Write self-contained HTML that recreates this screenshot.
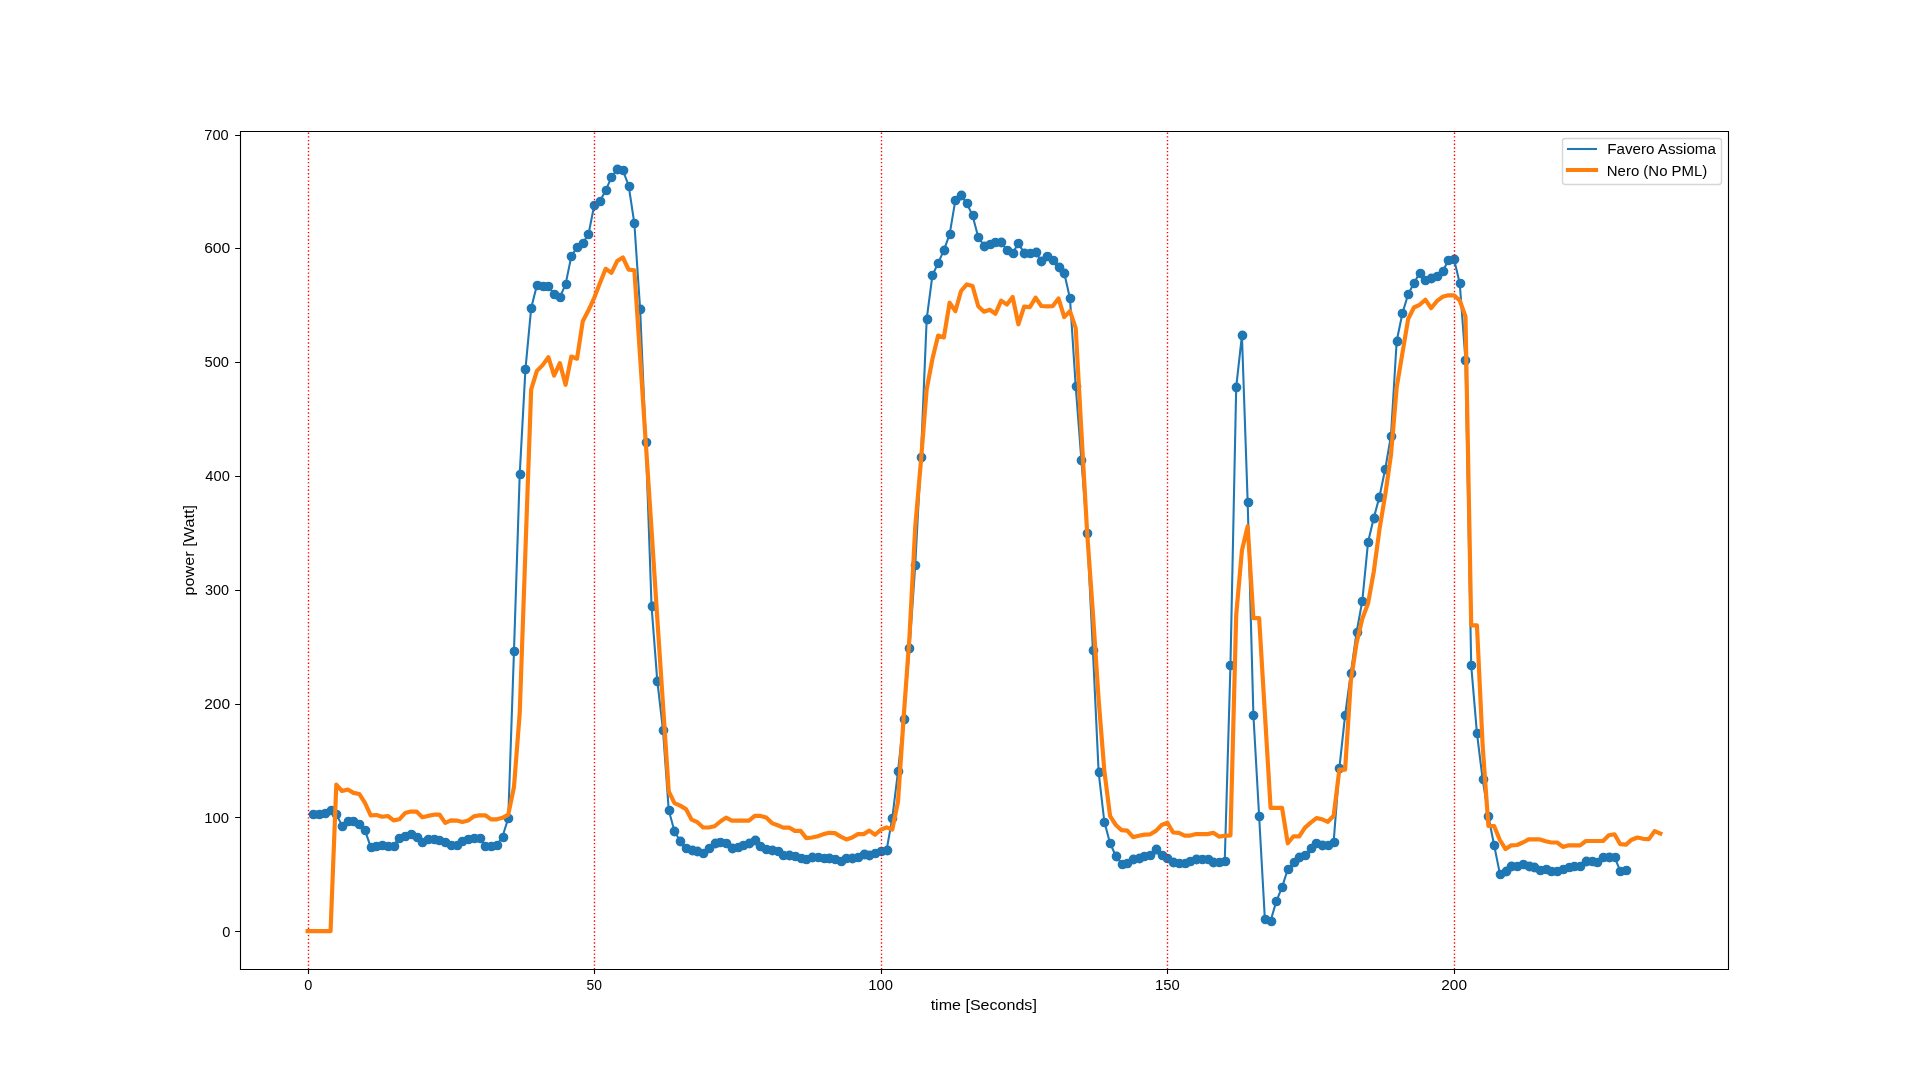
<!DOCTYPE html><html><head><meta charset="utf-8"><style>html,body{margin:0;padding:0;background:#fff;}svg{display:block;will-change:transform;}text{font-family:"Liberation Sans",sans-serif;fill:#000;}</style></head><body>
<svg width="1920" height="1089" viewBox="0 0 1920 1089">
<rect x="0" y="0" width="1920" height="1089" fill="#fff"/>
<defs><clipPath id="c"><rect x="240.0" y="130.68" width="1488.0" height="838.53"/></clipPath></defs>
<g clip-path="url(#c)">
<path d="M308.64 814.5a4.86 4.86 0 1 0 9.72 0a4.86 4.86 0 1 0 -9.72 0M314.64 814.5a4.86 4.86 0 1 0 9.72 0a4.86 4.86 0 1 0 -9.72 0M320.64 813.5a4.86 4.86 0 1 0 9.72 0a4.86 4.86 0 1 0 -9.72 0M326.64 810.5a4.86 4.86 0 1 0 9.72 0a4.86 4.86 0 1 0 -9.72 0M331.64 814.5a4.86 4.86 0 1 0 9.72 0a4.86 4.86 0 1 0 -9.72 0M337.64 826.5a4.86 4.86 0 1 0 9.72 0a4.86 4.86 0 1 0 -9.72 0M343.64 821.5a4.86 4.86 0 1 0 9.72 0a4.86 4.86 0 1 0 -9.72 0M348.64 821.5a4.86 4.86 0 1 0 9.72 0a4.86 4.86 0 1 0 -9.72 0M354.64 824.5a4.86 4.86 0 1 0 9.72 0a4.86 4.86 0 1 0 -9.72 0M360.64 830.5a4.86 4.86 0 1 0 9.72 0a4.86 4.86 0 1 0 -9.72 0M366.64 847.5a4.86 4.86 0 1 0 9.72 0a4.86 4.86 0 1 0 -9.72 0M371.64 846.5a4.86 4.86 0 1 0 9.72 0a4.86 4.86 0 1 0 -9.72 0M377.64 845.5a4.86 4.86 0 1 0 9.72 0a4.86 4.86 0 1 0 -9.72 0M383.64 846.5a4.86 4.86 0 1 0 9.72 0a4.86 4.86 0 1 0 -9.72 0M389.64 846.5a4.86 4.86 0 1 0 9.72 0a4.86 4.86 0 1 0 -9.72 0M394.64 838.5a4.86 4.86 0 1 0 9.72 0a4.86 4.86 0 1 0 -9.72 0M400.64 836.5a4.86 4.86 0 1 0 9.72 0a4.86 4.86 0 1 0 -9.72 0M406.64 834.5a4.86 4.86 0 1 0 9.72 0a4.86 4.86 0 1 0 -9.72 0M412.64 837.5a4.86 4.86 0 1 0 9.72 0a4.86 4.86 0 1 0 -9.72 0M417.64 842.5a4.86 4.86 0 1 0 9.72 0a4.86 4.86 0 1 0 -9.72 0M423.64 839.5a4.86 4.86 0 1 0 9.72 0a4.86 4.86 0 1 0 -9.72 0M429.64 839.5a4.86 4.86 0 1 0 9.72 0a4.86 4.86 0 1 0 -9.72 0M434.64 840.5a4.86 4.86 0 1 0 9.72 0a4.86 4.86 0 1 0 -9.72 0M440.64 842.5a4.86 4.86 0 1 0 9.72 0a4.86 4.86 0 1 0 -9.72 0M446.64 845.5a4.86 4.86 0 1 0 9.72 0a4.86 4.86 0 1 0 -9.72 0M452.64 845.5a4.86 4.86 0 1 0 9.72 0a4.86 4.86 0 1 0 -9.72 0M457.64 841.5a4.86 4.86 0 1 0 9.72 0a4.86 4.86 0 1 0 -9.72 0M463.64 839.5a4.86 4.86 0 1 0 9.72 0a4.86 4.86 0 1 0 -9.72 0M469.64 838.5a4.86 4.86 0 1 0 9.72 0a4.86 4.86 0 1 0 -9.72 0M475.64 838.5a4.86 4.86 0 1 0 9.72 0a4.86 4.86 0 1 0 -9.72 0M480.64 846.5a4.86 4.86 0 1 0 9.72 0a4.86 4.86 0 1 0 -9.72 0M486.64 846.5a4.86 4.86 0 1 0 9.72 0a4.86 4.86 0 1 0 -9.72 0M492.64 845.5a4.86 4.86 0 1 0 9.72 0a4.86 4.86 0 1 0 -9.72 0M498.64 837.5a4.86 4.86 0 1 0 9.72 0a4.86 4.86 0 1 0 -9.72 0M503.64 818.5a4.86 4.86 0 1 0 9.72 0a4.86 4.86 0 1 0 -9.72 0M509.64 651.5a4.86 4.86 0 1 0 9.72 0a4.86 4.86 0 1 0 -9.72 0M515.64 474.5a4.86 4.86 0 1 0 9.72 0a4.86 4.86 0 1 0 -9.72 0M520.64 369.5a4.86 4.86 0 1 0 9.72 0a4.86 4.86 0 1 0 -9.72 0M526.64 308.5a4.86 4.86 0 1 0 9.72 0a4.86 4.86 0 1 0 -9.72 0M532.64 285.5a4.86 4.86 0 1 0 9.72 0a4.86 4.86 0 1 0 -9.72 0M538.64 286.5a4.86 4.86 0 1 0 9.72 0a4.86 4.86 0 1 0 -9.72 0M543.64 286.5a4.86 4.86 0 1 0 9.72 0a4.86 4.86 0 1 0 -9.72 0M549.64 294.5a4.86 4.86 0 1 0 9.72 0a4.86 4.86 0 1 0 -9.72 0M555.64 297.5a4.86 4.86 0 1 0 9.72 0a4.86 4.86 0 1 0 -9.72 0M561.64 284.5a4.86 4.86 0 1 0 9.72 0a4.86 4.86 0 1 0 -9.72 0M566.64 256.5a4.86 4.86 0 1 0 9.72 0a4.86 4.86 0 1 0 -9.72 0M572.64 247.5a4.86 4.86 0 1 0 9.72 0a4.86 4.86 0 1 0 -9.72 0M578.64 243.5a4.86 4.86 0 1 0 9.72 0a4.86 4.86 0 1 0 -9.72 0M583.64 234.5a4.86 4.86 0 1 0 9.72 0a4.86 4.86 0 1 0 -9.72 0M589.64 205.5a4.86 4.86 0 1 0 9.72 0a4.86 4.86 0 1 0 -9.72 0M595.64 201.5a4.86 4.86 0 1 0 9.72 0a4.86 4.86 0 1 0 -9.72 0M601.64 190.5a4.86 4.86 0 1 0 9.72 0a4.86 4.86 0 1 0 -9.72 0M606.64 177.5a4.86 4.86 0 1 0 9.72 0a4.86 4.86 0 1 0 -9.72 0M612.64 169.5a4.86 4.86 0 1 0 9.72 0a4.86 4.86 0 1 0 -9.72 0M618.64 170.5a4.86 4.86 0 1 0 9.72 0a4.86 4.86 0 1 0 -9.72 0M624.64 186.5a4.86 4.86 0 1 0 9.72 0a4.86 4.86 0 1 0 -9.72 0M629.64 223.5a4.86 4.86 0 1 0 9.72 0a4.86 4.86 0 1 0 -9.72 0M635.64 309.5a4.86 4.86 0 1 0 9.72 0a4.86 4.86 0 1 0 -9.72 0M641.64 442.5a4.86 4.86 0 1 0 9.72 0a4.86 4.86 0 1 0 -9.72 0M647.64 606.5a4.86 4.86 0 1 0 9.72 0a4.86 4.86 0 1 0 -9.72 0M652.64 681.5a4.86 4.86 0 1 0 9.72 0a4.86 4.86 0 1 0 -9.72 0M658.64 730.5a4.86 4.86 0 1 0 9.72 0a4.86 4.86 0 1 0 -9.72 0M664.64 810.5a4.86 4.86 0 1 0 9.72 0a4.86 4.86 0 1 0 -9.72 0M669.64 831.5a4.86 4.86 0 1 0 9.72 0a4.86 4.86 0 1 0 -9.72 0M675.64 841.5a4.86 4.86 0 1 0 9.72 0a4.86 4.86 0 1 0 -9.72 0M681.64 848.5a4.86 4.86 0 1 0 9.72 0a4.86 4.86 0 1 0 -9.72 0M687.64 850.5a4.86 4.86 0 1 0 9.72 0a4.86 4.86 0 1 0 -9.72 0M692.64 851.5a4.86 4.86 0 1 0 9.72 0a4.86 4.86 0 1 0 -9.72 0M698.64 853.5a4.86 4.86 0 1 0 9.72 0a4.86 4.86 0 1 0 -9.72 0M704.64 848.5a4.86 4.86 0 1 0 9.72 0a4.86 4.86 0 1 0 -9.72 0M710.64 843.5a4.86 4.86 0 1 0 9.72 0a4.86 4.86 0 1 0 -9.72 0M715.64 842.5a4.86 4.86 0 1 0 9.72 0a4.86 4.86 0 1 0 -9.72 0M721.64 843.5a4.86 4.86 0 1 0 9.72 0a4.86 4.86 0 1 0 -9.72 0M727.64 848.5a4.86 4.86 0 1 0 9.72 0a4.86 4.86 0 1 0 -9.72 0M733.64 847.5a4.86 4.86 0 1 0 9.72 0a4.86 4.86 0 1 0 -9.72 0M738.64 845.5a4.86 4.86 0 1 0 9.72 0a4.86 4.86 0 1 0 -9.72 0M744.64 843.5a4.86 4.86 0 1 0 9.72 0a4.86 4.86 0 1 0 -9.72 0M750.64 840.5a4.86 4.86 0 1 0 9.72 0a4.86 4.86 0 1 0 -9.72 0M755.64 846.5a4.86 4.86 0 1 0 9.72 0a4.86 4.86 0 1 0 -9.72 0M761.64 849.5a4.86 4.86 0 1 0 9.72 0a4.86 4.86 0 1 0 -9.72 0M767.64 850.5a4.86 4.86 0 1 0 9.72 0a4.86 4.86 0 1 0 -9.72 0M773.64 851.5a4.86 4.86 0 1 0 9.72 0a4.86 4.86 0 1 0 -9.72 0M778.64 855.5a4.86 4.86 0 1 0 9.72 0a4.86 4.86 0 1 0 -9.72 0M784.64 855.5a4.86 4.86 0 1 0 9.72 0a4.86 4.86 0 1 0 -9.72 0M790.64 856.5a4.86 4.86 0 1 0 9.72 0a4.86 4.86 0 1 0 -9.72 0M796.64 858.5a4.86 4.86 0 1 0 9.72 0a4.86 4.86 0 1 0 -9.72 0M801.64 859.5a4.86 4.86 0 1 0 9.72 0a4.86 4.86 0 1 0 -9.72 0M807.64 857.5a4.86 4.86 0 1 0 9.72 0a4.86 4.86 0 1 0 -9.72 0M813.64 857.5a4.86 4.86 0 1 0 9.72 0a4.86 4.86 0 1 0 -9.72 0M819.64 858.5a4.86 4.86 0 1 0 9.72 0a4.86 4.86 0 1 0 -9.72 0M824.64 858.5a4.86 4.86 0 1 0 9.72 0a4.86 4.86 0 1 0 -9.72 0M830.64 859.5a4.86 4.86 0 1 0 9.72 0a4.86 4.86 0 1 0 -9.72 0M836.64 861.5a4.86 4.86 0 1 0 9.72 0a4.86 4.86 0 1 0 -9.72 0M841.64 858.5a4.86 4.86 0 1 0 9.72 0a4.86 4.86 0 1 0 -9.72 0M847.64 858.5a4.86 4.86 0 1 0 9.72 0a4.86 4.86 0 1 0 -9.72 0M853.64 857.5a4.86 4.86 0 1 0 9.72 0a4.86 4.86 0 1 0 -9.72 0M859.64 854.5a4.86 4.86 0 1 0 9.72 0a4.86 4.86 0 1 0 -9.72 0M864.64 855.5a4.86 4.86 0 1 0 9.72 0a4.86 4.86 0 1 0 -9.72 0M870.64 853.5a4.86 4.86 0 1 0 9.72 0a4.86 4.86 0 1 0 -9.72 0M876.64 851.5a4.86 4.86 0 1 0 9.72 0a4.86 4.86 0 1 0 -9.72 0M882.64 850.5a4.86 4.86 0 1 0 9.72 0a4.86 4.86 0 1 0 -9.72 0M887.64 818.5a4.86 4.86 0 1 0 9.72 0a4.86 4.86 0 1 0 -9.72 0M893.64 771.5a4.86 4.86 0 1 0 9.72 0a4.86 4.86 0 1 0 -9.72 0M899.64 719.5a4.86 4.86 0 1 0 9.72 0a4.86 4.86 0 1 0 -9.72 0M904.64 648.5a4.86 4.86 0 1 0 9.72 0a4.86 4.86 0 1 0 -9.72 0M910.64 565.5a4.86 4.86 0 1 0 9.72 0a4.86 4.86 0 1 0 -9.72 0M916.64 457.5a4.86 4.86 0 1 0 9.72 0a4.86 4.86 0 1 0 -9.72 0M922.64 319.5a4.86 4.86 0 1 0 9.72 0a4.86 4.86 0 1 0 -9.72 0M927.64 275.5a4.86 4.86 0 1 0 9.72 0a4.86 4.86 0 1 0 -9.72 0M933.64 263.5a4.86 4.86 0 1 0 9.72 0a4.86 4.86 0 1 0 -9.72 0M939.64 250.5a4.86 4.86 0 1 0 9.72 0a4.86 4.86 0 1 0 -9.72 0M945.64 234.5a4.86 4.86 0 1 0 9.72 0a4.86 4.86 0 1 0 -9.72 0M950.64 200.5a4.86 4.86 0 1 0 9.72 0a4.86 4.86 0 1 0 -9.72 0M956.64 195.5a4.86 4.86 0 1 0 9.72 0a4.86 4.86 0 1 0 -9.72 0M962.64 203.5a4.86 4.86 0 1 0 9.72 0a4.86 4.86 0 1 0 -9.72 0M968.64 215.5a4.86 4.86 0 1 0 9.72 0a4.86 4.86 0 1 0 -9.72 0M973.64 237.5a4.86 4.86 0 1 0 9.72 0a4.86 4.86 0 1 0 -9.72 0M979.64 246.5a4.86 4.86 0 1 0 9.72 0a4.86 4.86 0 1 0 -9.72 0M985.64 244.5a4.86 4.86 0 1 0 9.72 0a4.86 4.86 0 1 0 -9.72 0M990.64 242.5a4.86 4.86 0 1 0 9.72 0a4.86 4.86 0 1 0 -9.72 0M996.64 242.5a4.86 4.86 0 1 0 9.72 0a4.86 4.86 0 1 0 -9.72 0M1002.64 250.5a4.86 4.86 0 1 0 9.72 0a4.86 4.86 0 1 0 -9.72 0M1008.64 253.5a4.86 4.86 0 1 0 9.72 0a4.86 4.86 0 1 0 -9.72 0M1013.64 243.5a4.86 4.86 0 1 0 9.72 0a4.86 4.86 0 1 0 -9.72 0M1019.64 253.5a4.86 4.86 0 1 0 9.72 0a4.86 4.86 0 1 0 -9.72 0M1025.64 253.5a4.86 4.86 0 1 0 9.72 0a4.86 4.86 0 1 0 -9.72 0M1031.64 252.5a4.86 4.86 0 1 0 9.72 0a4.86 4.86 0 1 0 -9.72 0M1036.64 261.5a4.86 4.86 0 1 0 9.72 0a4.86 4.86 0 1 0 -9.72 0M1042.64 256.5a4.86 4.86 0 1 0 9.72 0a4.86 4.86 0 1 0 -9.72 0M1048.64 260.5a4.86 4.86 0 1 0 9.72 0a4.86 4.86 0 1 0 -9.72 0M1054.64 267.5a4.86 4.86 0 1 0 9.72 0a4.86 4.86 0 1 0 -9.72 0M1059.64 273.5a4.86 4.86 0 1 0 9.72 0a4.86 4.86 0 1 0 -9.72 0M1065.64 298.5a4.86 4.86 0 1 0 9.72 0a4.86 4.86 0 1 0 -9.72 0M1071.64 386.5a4.86 4.86 0 1 0 9.72 0a4.86 4.86 0 1 0 -9.72 0M1076.64 460.5a4.86 4.86 0 1 0 9.72 0a4.86 4.86 0 1 0 -9.72 0M1082.64 533.5a4.86 4.86 0 1 0 9.72 0a4.86 4.86 0 1 0 -9.72 0M1088.64 650.5a4.86 4.86 0 1 0 9.72 0a4.86 4.86 0 1 0 -9.72 0M1094.64 772.5a4.86 4.86 0 1 0 9.72 0a4.86 4.86 0 1 0 -9.72 0M1099.64 822.5a4.86 4.86 0 1 0 9.72 0a4.86 4.86 0 1 0 -9.72 0M1105.64 843.5a4.86 4.86 0 1 0 9.72 0a4.86 4.86 0 1 0 -9.72 0M1111.64 856.5a4.86 4.86 0 1 0 9.72 0a4.86 4.86 0 1 0 -9.72 0M1117.64 864.5a4.86 4.86 0 1 0 9.72 0a4.86 4.86 0 1 0 -9.72 0M1122.64 863.5a4.86 4.86 0 1 0 9.72 0a4.86 4.86 0 1 0 -9.72 0M1128.64 859.5a4.86 4.86 0 1 0 9.72 0a4.86 4.86 0 1 0 -9.72 0M1134.64 858.5a4.86 4.86 0 1 0 9.72 0a4.86 4.86 0 1 0 -9.72 0M1139.64 856.5a4.86 4.86 0 1 0 9.72 0a4.86 4.86 0 1 0 -9.72 0M1145.64 855.5a4.86 4.86 0 1 0 9.72 0a4.86 4.86 0 1 0 -9.72 0M1151.64 849.5a4.86 4.86 0 1 0 9.72 0a4.86 4.86 0 1 0 -9.72 0M1157.64 855.5a4.86 4.86 0 1 0 9.72 0a4.86 4.86 0 1 0 -9.72 0M1162.64 858.5a4.86 4.86 0 1 0 9.72 0a4.86 4.86 0 1 0 -9.72 0M1168.64 862.5a4.86 4.86 0 1 0 9.72 0a4.86 4.86 0 1 0 -9.72 0M1174.64 863.5a4.86 4.86 0 1 0 9.72 0a4.86 4.86 0 1 0 -9.72 0M1180.64 863.5a4.86 4.86 0 1 0 9.72 0a4.86 4.86 0 1 0 -9.72 0M1185.64 861.5a4.86 4.86 0 1 0 9.72 0a4.86 4.86 0 1 0 -9.72 0M1191.64 859.5a4.86 4.86 0 1 0 9.72 0a4.86 4.86 0 1 0 -9.72 0M1197.64 859.5a4.86 4.86 0 1 0 9.72 0a4.86 4.86 0 1 0 -9.72 0M1203.64 859.5a4.86 4.86 0 1 0 9.72 0a4.86 4.86 0 1 0 -9.72 0M1208.64 862.5a4.86 4.86 0 1 0 9.72 0a4.86 4.86 0 1 0 -9.72 0M1214.64 862.5a4.86 4.86 0 1 0 9.72 0a4.86 4.86 0 1 0 -9.72 0M1220.64 861.5a4.86 4.86 0 1 0 9.72 0a4.86 4.86 0 1 0 -9.72 0M1225.64 665.5a4.86 4.86 0 1 0 9.72 0a4.86 4.86 0 1 0 -9.72 0M1231.64 387.5a4.86 4.86 0 1 0 9.72 0a4.86 4.86 0 1 0 -9.72 0M1237.64 335.5a4.86 4.86 0 1 0 9.72 0a4.86 4.86 0 1 0 -9.72 0M1243.64 502.5a4.86 4.86 0 1 0 9.72 0a4.86 4.86 0 1 0 -9.72 0M1248.64 715.5a4.86 4.86 0 1 0 9.72 0a4.86 4.86 0 1 0 -9.72 0M1254.64 816.5a4.86 4.86 0 1 0 9.72 0a4.86 4.86 0 1 0 -9.72 0M1260.64 919.5a4.86 4.86 0 1 0 9.72 0a4.86 4.86 0 1 0 -9.72 0M1266.64 921.5a4.86 4.86 0 1 0 9.72 0a4.86 4.86 0 1 0 -9.72 0M1271.64 901.5a4.86 4.86 0 1 0 9.72 0a4.86 4.86 0 1 0 -9.72 0M1277.64 887.5a4.86 4.86 0 1 0 9.72 0a4.86 4.86 0 1 0 -9.72 0M1283.64 869.5a4.86 4.86 0 1 0 9.72 0a4.86 4.86 0 1 0 -9.72 0M1289.64 862.5a4.86 4.86 0 1 0 9.72 0a4.86 4.86 0 1 0 -9.72 0M1294.64 857.5a4.86 4.86 0 1 0 9.72 0a4.86 4.86 0 1 0 -9.72 0M1300.64 855.5a4.86 4.86 0 1 0 9.72 0a4.86 4.86 0 1 0 -9.72 0M1306.64 848.5a4.86 4.86 0 1 0 9.72 0a4.86 4.86 0 1 0 -9.72 0M1311.64 843.5a4.86 4.86 0 1 0 9.72 0a4.86 4.86 0 1 0 -9.72 0M1317.64 845.5a4.86 4.86 0 1 0 9.72 0a4.86 4.86 0 1 0 -9.72 0M1323.64 845.5a4.86 4.86 0 1 0 9.72 0a4.86 4.86 0 1 0 -9.72 0M1329.64 842.5a4.86 4.86 0 1 0 9.72 0a4.86 4.86 0 1 0 -9.72 0M1334.64 768.5a4.86 4.86 0 1 0 9.72 0a4.86 4.86 0 1 0 -9.72 0M1340.64 715.5a4.86 4.86 0 1 0 9.72 0a4.86 4.86 0 1 0 -9.72 0M1346.64 673.5a4.86 4.86 0 1 0 9.72 0a4.86 4.86 0 1 0 -9.72 0M1352.64 632.5a4.86 4.86 0 1 0 9.72 0a4.86 4.86 0 1 0 -9.72 0M1357.64 601.5a4.86 4.86 0 1 0 9.72 0a4.86 4.86 0 1 0 -9.72 0M1363.64 542.5a4.86 4.86 0 1 0 9.72 0a4.86 4.86 0 1 0 -9.72 0M1369.64 518.5a4.86 4.86 0 1 0 9.72 0a4.86 4.86 0 1 0 -9.72 0M1374.64 497.5a4.86 4.86 0 1 0 9.72 0a4.86 4.86 0 1 0 -9.72 0M1380.64 469.5a4.86 4.86 0 1 0 9.72 0a4.86 4.86 0 1 0 -9.72 0M1386.64 436.5a4.86 4.86 0 1 0 9.72 0a4.86 4.86 0 1 0 -9.72 0M1392.64 341.5a4.86 4.86 0 1 0 9.72 0a4.86 4.86 0 1 0 -9.72 0M1397.64 313.5a4.86 4.86 0 1 0 9.72 0a4.86 4.86 0 1 0 -9.72 0M1403.64 294.5a4.86 4.86 0 1 0 9.72 0a4.86 4.86 0 1 0 -9.72 0M1409.64 283.5a4.86 4.86 0 1 0 9.72 0a4.86 4.86 0 1 0 -9.72 0M1415.64 273.5a4.86 4.86 0 1 0 9.72 0a4.86 4.86 0 1 0 -9.72 0M1420.64 280.5a4.86 4.86 0 1 0 9.72 0a4.86 4.86 0 1 0 -9.72 0M1426.64 278.5a4.86 4.86 0 1 0 9.72 0a4.86 4.86 0 1 0 -9.72 0M1432.64 276.5a4.86 4.86 0 1 0 9.72 0a4.86 4.86 0 1 0 -9.72 0M1438.64 271.5a4.86 4.86 0 1 0 9.72 0a4.86 4.86 0 1 0 -9.72 0M1443.64 260.5a4.86 4.86 0 1 0 9.72 0a4.86 4.86 0 1 0 -9.72 0M1449.64 259.5a4.86 4.86 0 1 0 9.72 0a4.86 4.86 0 1 0 -9.72 0M1455.64 283.5a4.86 4.86 0 1 0 9.72 0a4.86 4.86 0 1 0 -9.72 0M1460.64 360.5a4.86 4.86 0 1 0 9.72 0a4.86 4.86 0 1 0 -9.72 0M1466.64 665.5a4.86 4.86 0 1 0 9.72 0a4.86 4.86 0 1 0 -9.72 0M1472.64 733.5a4.86 4.86 0 1 0 9.72 0a4.86 4.86 0 1 0 -9.72 0M1478.64 779.5a4.86 4.86 0 1 0 9.72 0a4.86 4.86 0 1 0 -9.72 0M1483.64 816.5a4.86 4.86 0 1 0 9.72 0a4.86 4.86 0 1 0 -9.72 0M1489.64 845.5a4.86 4.86 0 1 0 9.72 0a4.86 4.86 0 1 0 -9.72 0M1495.64 874.5a4.86 4.86 0 1 0 9.72 0a4.86 4.86 0 1 0 -9.72 0M1501.64 871.5a4.86 4.86 0 1 0 9.72 0a4.86 4.86 0 1 0 -9.72 0M1506.64 866.5a4.86 4.86 0 1 0 9.72 0a4.86 4.86 0 1 0 -9.72 0M1512.64 866.5a4.86 4.86 0 1 0 9.72 0a4.86 4.86 0 1 0 -9.72 0M1518.64 864.5a4.86 4.86 0 1 0 9.72 0a4.86 4.86 0 1 0 -9.72 0M1524.64 866.5a4.86 4.86 0 1 0 9.72 0a4.86 4.86 0 1 0 -9.72 0M1529.64 867.5a4.86 4.86 0 1 0 9.72 0a4.86 4.86 0 1 0 -9.72 0M1535.64 870.5a4.86 4.86 0 1 0 9.72 0a4.86 4.86 0 1 0 -9.72 0M1541.64 869.5a4.86 4.86 0 1 0 9.72 0a4.86 4.86 0 1 0 -9.72 0M1546.64 871.5a4.86 4.86 0 1 0 9.72 0a4.86 4.86 0 1 0 -9.72 0M1552.64 871.5a4.86 4.86 0 1 0 9.72 0a4.86 4.86 0 1 0 -9.72 0M1558.64 869.5a4.86 4.86 0 1 0 9.72 0a4.86 4.86 0 1 0 -9.72 0M1564.64 867.5a4.86 4.86 0 1 0 9.72 0a4.86 4.86 0 1 0 -9.72 0M1569.64 866.5a4.86 4.86 0 1 0 9.72 0a4.86 4.86 0 1 0 -9.72 0M1575.64 866.5a4.86 4.86 0 1 0 9.72 0a4.86 4.86 0 1 0 -9.72 0M1581.64 861.5a4.86 4.86 0 1 0 9.72 0a4.86 4.86 0 1 0 -9.72 0M1587.64 861.5a4.86 4.86 0 1 0 9.72 0a4.86 4.86 0 1 0 -9.72 0M1592.64 862.5a4.86 4.86 0 1 0 9.72 0a4.86 4.86 0 1 0 -9.72 0M1598.64 857.5a4.86 4.86 0 1 0 9.72 0a4.86 4.86 0 1 0 -9.72 0M1604.64 857.5a4.86 4.86 0 1 0 9.72 0a4.86 4.86 0 1 0 -9.72 0M1610.64 857.5a4.86 4.86 0 1 0 9.72 0a4.86 4.86 0 1 0 -9.72 0M1615.64 871.5a4.86 4.86 0 1 0 9.72 0a4.86 4.86 0 1 0 -9.72 0M1621.64 870.5a4.86 4.86 0 1 0 9.72 0a4.86 4.86 0 1 0 -9.72 0" fill="#1f77b4"/>
<line x1="308.5" y1="969.5" x2="308.5" y2="130.68" stroke="#ff0000" stroke-width="1.389" stroke-dasharray="1.389 2.292"/>
<line x1="594.5" y1="969.5" x2="594.5" y2="130.68" stroke="#ff0000" stroke-width="1.389" stroke-dasharray="1.389 2.292"/>
<line x1="881.5" y1="969.5" x2="881.5" y2="130.68" stroke="#ff0000" stroke-width="1.389" stroke-dasharray="1.389 2.292"/>
<line x1="1167.5" y1="969.5" x2="1167.5" y2="130.68" stroke="#ff0000" stroke-width="1.389" stroke-dasharray="1.389 2.292"/>
<line x1="1454.5" y1="969.5" x2="1454.5" y2="130.68" stroke="#ff0000" stroke-width="1.389" stroke-dasharray="1.389 2.292"/>
<polyline points="313.37,814.15 319.1,814.15 324.83,813.4 330.56,809.75 336.3,814.15 342.03,825.6 347.76,820.8 353.49,820.8 359.22,824.07 364.96,830.3 370.69,846.8 376.42,846.1 382.15,845 387.88,845.5 393.61,845.5 399.35,838 405.08,836.2 410.81,834 416.54,836.5 422.27,842 428.01,839.06 433.74,839.4 439.47,840 445.2,841.9 450.93,844.9 456.67,844.9 462.4,840.9 468.13,839.06 473.86,838.1 479.59,838.1 485.32,845.9 491.06,846.25 496.79,845.3 502.52,836.5 508.25,818.3 513.98,651.3 519.72,474.2 525.45,369.1 531.18,308.1 536.91,285.3 542.64,286 548.38,286 554.11,294.4 559.84,297.3 565.57,284.4 571.3,256.4 577.03,247.2 582.77,243 588.5,234.3 594.23,205.3 599.96,201.3 605.69,190.3 611.43,177.4 617.16,169.3 622.89,170.4 628.62,185.5 634.35,223.3 640.09,308.7 645.82,442 651.55,606.2 657.28,680.6 663.01,730.2 668.75,810.2 674.48,831.25 680.21,841.25 685.94,848.4 691.67,850 697.4,850.9 703.14,853.1 708.87,848.4 714.6,843.1 720.33,842.2 726.06,843.1 731.8,848.1 737.53,847.2 743.26,845.3 748.99,843.4 754.72,840 760.46,846.25 766.19,849.4 771.92,850 777.65,851 783.38,854.8 789.11,855 794.85,855.9 800.58,858.4 806.31,858.8 812.04,856.6 817.77,856.6 823.51,858.1 829.24,857.8 834.97,859.4 840.7,861 846.43,857.5 852.17,857.8 857.9,856.6 863.63,853.75 869.36,854.9 875.09,853.4 880.82,851.2 886.56,850.3 892.29,818.1 898.02,771.3 903.75,718.6 909.48,648.2 915.22,565.3 920.95,457.1 926.68,319.2 932.41,275.3 938.14,263.1 943.88,250.2 949.61,234.4 955.34,200.4 961.07,195.3 966.8,203.4 972.53,215.4 978.27,237.3 984,245.5 989.73,244.3 995.46,242.1 1001.19,242.4 1006.93,250.2 1012.66,253.3 1018.39,243.3 1024.12,253.1 1029.85,253.1 1035.59,252 1041.32,261.3 1047.05,256.1 1052.78,259.5 1058.51,267 1064.25,273.1 1069.98,298.4 1075.71,386.2 1081.44,460.3 1087.17,533 1092.9,650.1 1098.64,772.4 1104.37,822 1110.1,843.2 1115.83,856 1121.56,863.5 1127.3,863.3 1133.03,858.5 1138.76,858 1144.49,856.4 1150.22,855 1155.96,848.75 1161.69,855.3 1167.42,857.8 1173.15,861.6 1178.88,862.5 1184.61,862.5 1190.35,861.25 1196.08,859.1 1201.81,859.1 1207.54,858.75 1213.27,861.6 1219.01,862.2 1224.74,861.2 1230.47,664.5 1236.2,387.2 1241.93,335.3 1247.67,501.9 1253.4,715.1 1259.13,816.3 1264.86,918.9 1270.59,921 1276.32,901.3 1282.06,887.1 1287.79,869.2 1293.52,862.3 1299.25,856.9 1304.98,854.5 1310.72,848.3 1316.45,842.5 1322.18,845 1327.91,845.4 1333.64,842.1 1339.38,768.1 1345.11,715.2 1350.84,673.3 1356.57,632.3 1362.3,601 1368.03,542.3 1373.77,518.1 1379.5,496.5 1385.23,469 1390.96,435.9 1396.69,341 1402.43,313.2 1408.16,294.2 1413.89,283.3 1419.62,273.1 1425.35,280 1431.09,278.4 1436.82,276.2 1442.55,271.4 1448.28,260.4 1454.01,259.3 1459.75,283.3 1465.48,360.2 1471.21,665.3 1476.94,733.2 1482.67,779.4 1488.4,816.2 1494.14,845.2 1499.87,873.6 1505.6,870.6 1511.33,865.7 1517.06,866.25 1522.8,864.4 1528.53,865.6 1534.26,867.2 1539.99,869.5 1545.72,869 1551.46,870.6 1557.19,870.5 1562.92,869.2 1568.65,866.8 1574.38,866 1580.11,865.7 1585.85,861.3 1591.58,861 1597.31,861.6 1603.04,857.2 1608.77,857.4 1614.51,857.1 1620.24,870.8 1625.97,870.3" fill="none" stroke="#1f77b4" stroke-width="2.083" stroke-linejoin="round" stroke-linecap="square"/>
<polyline points="307.64,931.1 313.37,931.1 319.1,931.1 324.83,931.1 330.56,931.1 336.3,784.6 342.03,791 347.76,789.5 353.49,792.85 359.22,793.95 364.96,802.8 370.69,815.3 376.42,815 382.15,816.7 387.88,816 393.61,820.4 399.35,819.3 405.08,813.05 410.81,811.6 416.54,811.6 422.27,817.3 428.01,815.9 433.74,814.7 439.47,814.5 445.2,822.9 450.93,820.3 456.67,820.6 462.4,822 468.13,820.6 473.86,816.4 479.59,815.3 485.32,815.3 491.06,819.4 496.79,819.3 502.52,817.8 508.25,814.7 513.98,787 519.72,713 525.45,550 531.18,389.4 536.91,370.9 542.64,365.1 548.38,357.2 554.11,375.6 559.84,363.1 565.57,384.8 571.3,356.5 577.03,358.7 582.77,321.3 588.5,310.3 594.23,297.8 599.96,283 605.69,268.8 611.43,272.9 617.16,261.1 622.89,257.5 628.62,269.6 634.35,270.2 640.09,356.6 645.82,443.3 651.55,529.9 657.28,618.1 663.01,704.7 668.75,791.5 674.48,803.1 680.21,805.6 685.94,809.1 691.67,819.7 697.4,822.2 703.14,827.5 708.87,827.5 714.6,826.25 720.33,821.5 726.06,817.6 731.8,820.6 737.53,820.6 743.26,820.6 748.99,820.6 754.72,815.9 760.46,815.9 766.19,817.5 771.92,823.1 777.65,825.3 783.38,827.6 789.11,827.5 794.85,830.9 800.58,830.9 806.31,838.1 812.04,837.5 817.77,836.25 823.51,834.1 829.24,832.8 834.97,833.1 840.7,836.6 846.43,839.4 852.17,837.5 857.9,834.1 863.63,834.1 869.36,830.6 875.09,834.7 880.82,829.7 886.56,827.4 892.29,829.5 898.02,801.6 903.75,716 909.48,637 915.22,527 920.95,461 926.68,389.3 932.41,359 938.14,335.6 943.88,337.4 949.61,302.7 955.34,311.2 961.07,291 966.8,284.4 972.53,286 978.27,306.2 984,311.7 989.73,309.7 995.46,313.7 1001.19,300.6 1006.93,304.6 1012.66,297 1018.39,324.3 1024.12,306.7 1029.85,307.2 1035.59,297.6 1041.32,306 1047.05,306.4 1052.78,306.1 1058.51,298.4 1064.25,317.1 1069.98,311.1 1075.71,328.2 1081.44,432 1087.17,533 1092.9,613 1098.64,699.6 1104.37,771.3 1110.1,816.1 1115.83,825 1121.56,830.1 1127.3,830.6 1133.03,837.1 1138.76,835.8 1144.49,834.6 1150.22,834.3 1155.96,830.9 1161.69,825 1167.42,822.8 1173.15,832.5 1178.88,832.8 1184.61,835.6 1190.35,835.6 1196.08,834.1 1201.81,834.1 1207.54,834.1 1213.27,832.8 1219.01,836.6 1224.74,835.8 1230.47,835.3 1236.2,615 1241.93,550.4 1247.67,526.2 1253.4,618.1 1259.13,618.1 1264.86,713 1270.59,807.8 1276.32,807.8 1282.06,807.8 1287.79,843.3 1293.52,836.3 1299.25,836.3 1304.98,827.6 1310.72,822.6 1316.45,818.1 1322.18,819.3 1327.91,821.8 1333.64,815.8 1339.38,769.6 1345.11,769.6 1350.84,681 1356.57,642.9 1362.3,618.7 1368.03,603.6 1373.77,571.6 1379.5,529.2 1385.23,494.8 1390.96,455 1396.69,387.5 1402.43,353 1408.16,319 1413.89,307.5 1419.62,304.8 1425.35,299.7 1431.09,308.2 1436.82,301.2 1442.55,296.8 1448.28,295.3 1454.01,295.3 1459.75,300.5 1465.48,316.4 1471.21,625.3 1476.94,625.3 1482.67,746 1488.4,825.8 1494.14,826.1 1499.87,840 1505.6,849.1 1511.33,845.3 1517.06,845 1522.8,842.5 1528.53,839.4 1534.26,839.4 1539.99,839.4 1545.72,841.25 1551.46,842.5 1557.19,842.5 1562.92,846.9 1568.65,845.3 1574.38,845.3 1580.11,845.3 1585.85,841 1591.58,841 1597.31,841 1603.04,841 1608.77,835.2 1614.51,834.3 1620.24,844.2 1625.97,844.6 1631.7,839.7 1637.43,837.5 1643.17,838.8 1648.9,839.1 1654.63,831.1 1660.36,833.6" fill="none" stroke="#ff7f0e" stroke-width="4.167" stroke-linejoin="round" stroke-linecap="square"/>
</g>
<path d="M240.5 969.5V131.5H1728.5V969.5H240.5Z" fill="none" stroke="#000" stroke-width="1.111" stroke-linecap="square"/>
<path d="M308.5 969.21v4.861M594.5 969.21v4.861M881.5 969.21v4.861M1167.5 969.21v4.861M1454.5 969.21v4.861M240.0 931.5h-4.861M240.0 817.5h-4.861M240.0 704.5h-4.861M240.0 590.5h-4.861M240.0 476.5h-4.861M240.0 362.5h-4.861M240.0 248.5h-4.861M240.0 135.5h-4.861" stroke="#000" stroke-width="1.111"/>
<rect x="1562.5" y="138.5" width="159" height="46" rx="2.78" ry="2.78" fill="#fff" fill-opacity="0.8" stroke="#cccccc" stroke-opacity="0.8" stroke-width="1.389"/>
<line x1="1568" y1="149" x2="1596" y2="149" stroke="#1f77b4" stroke-width="2.083" stroke-linecap="square"/>
<line x1="1568" y1="170" x2="1596" y2="170" stroke="#ff7f0e" stroke-width="4.167" stroke-linecap="square"/>
<text x="204.38" y="140.05" font-size="13.89" textLength="24.36" lengthAdjust="spacingAndGlyphs">700</text>
<text x="204.15" y="252.9" font-size="13.89" textLength="26.12" lengthAdjust="spacingAndGlyphs">600</text>
<text x="204.52" y="367.48" font-size="13.89" textLength="24.51" lengthAdjust="spacingAndGlyphs">500</text>
<text x="205.39" y="480.95" font-size="13.89" textLength="24.42" lengthAdjust="spacingAndGlyphs">400</text>
<text x="204.98" y="595.02" font-size="13.89" textLength="24.04" lengthAdjust="spacingAndGlyphs">300</text>
<text x="204.24" y="708.75" font-size="13.89" textLength="25.87" lengthAdjust="spacingAndGlyphs">200</text>
<text x="204.15" y="823.45" font-size="13.89" textLength="24.82" lengthAdjust="spacingAndGlyphs">100</text>
<text x="222.34" y="937.1" font-size="13.89" textLength="8.11" lengthAdjust="spacingAndGlyphs">0</text>
<text x="304.32" y="990.11" font-size="13.89" textLength="8.09" lengthAdjust="spacingAndGlyphs">0</text>
<text x="586.55" y="990.05" font-size="13.89" textLength="15.41" lengthAdjust="spacingAndGlyphs">50</text>
<text x="868.24" y="989.94" font-size="13.89" textLength="24.75" lengthAdjust="spacingAndGlyphs">100</text>
<text x="1155.02" y="990.45" font-size="13.89" textLength="24.77" lengthAdjust="spacingAndGlyphs">150</text>
<text x="1441.29" y="990.28" font-size="13.89" textLength="25.72" lengthAdjust="spacingAndGlyphs">200</text>
<text x="930.67" y="1009.97" font-size="14.08" textLength="106.21" lengthAdjust="spacingAndGlyphs">time [Seconds]</text>
<text transform="translate(193.7,595.58) rotate(-90)" x="0" y="0" font-size="13.94" textLength="90.7" lengthAdjust="spacingAndGlyphs">power [Watt]</text>
<text x="1607.3" y="154.23" font-size="15.51" textLength="108.6" lengthAdjust="spacingAndGlyphs">Favero Assioma</text>
<text x="1606.83" y="175.66" font-size="14.46" textLength="100.47" lengthAdjust="spacingAndGlyphs">Nero (No PML)</text>
</svg></body></html>
